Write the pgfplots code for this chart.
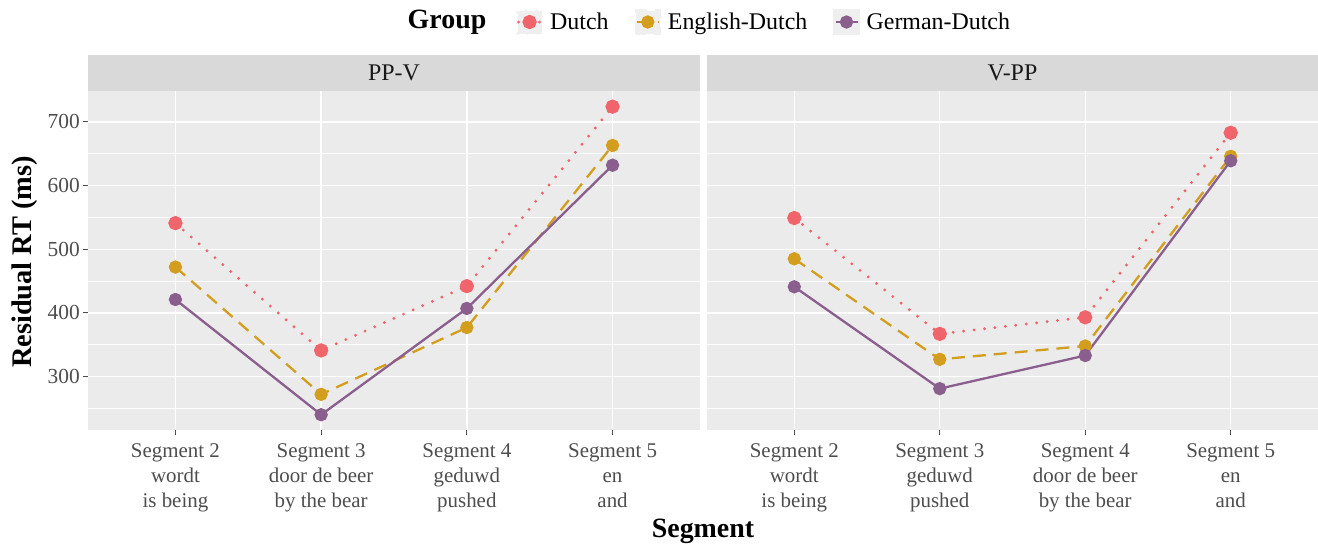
\documentclass[border=0pt]{standalone}
\usepackage{fontspec}
\setmainfont{Liberation Serif}
\usepackage{pgfplots}
\pgfplotsset{compat=1.18}
\definecolor{cDutch}{HTML}{F0646B}
\definecolor{cED}{HTML}{D39E1E}
\definecolor{cGD}{HTML}{8A5F8E}
\definecolor{panelbg}{HTML}{EBEBEB}
\definecolor{stripbg}{HTML}{D9D9D9}
\definecolor{tickgray}{HTML}{4D4D4D}
\definecolor{legbg}{HTML}{EFEFEF}
\pgfplotsset{
 facet/.style={
  scale only axis, height=339bp,
  xmin=-0.6, xmax=3.6, ymin=216, ymax=748.6,
  axis background/.style={fill=panelbg},
  axis line style={draw=none},
  xtick={0,1,2,3}, ytick={300,400,500,600,700},
  minor ytick={250,350,450,550,650},
  grid=both,
  major grid style={white, line width=1.3bp},
  minor grid style={white, line width=0.6bp},
  tick align=outside, major tick length=5bp, minor tick length=0pt,
  tick style={tickgray, line width=1bp},
  tick pos=left,
  xticklabel style={font=\fontsize{21}{25.5}\selectfont, text=tickgray, align=center, anchor=north, inner sep=2bp, yshift=-6bp},
  yticklabel style={font=\fontsize{21.5}{25}\selectfont, text=tickgray, inner sep=3bp},
  /pgf/number format/assume math mode=true,
  legend image code/.code={
    \fill[legbg] (0bp,-11.5bp) rectangle (24bp,11.5bp);
    \draw[mark repeat=2, mark phase=2, #1] plot coordinates {(1bp,0bp) (12bp,0bp) (23bp,0bp)};},
 },
 sDutch/.style={cDutch, line width=3.2bp, line cap=round, dash pattern=on 0bp off 10.5bp, mark=*, mark size=5.5bp, mark options={solid, fill=cDutch, draw=cDutch}},
 sED/.style={cED, line width=2.3bp, dash pattern=on 13bp off 8bp, mark=*, mark size=5.5bp, mark options={solid, fill=cED, draw=cED}},
 sGD/.style={cGD, line width=2.3bp, mark=*, mark size=5.5bp, mark options={solid, fill=cGD, draw=cGD}},
}
\begin{document}
\begin{tikzpicture}
\path[use as bounding box] (0,0) rectangle (1318bp,545bp);
\begin{axis}[facet, name=L, at={(88bp,115bp)}, anchor=south west, width=612bp,
  xticklabels={{Segment 2\\wordt\\is being},{Segment 3\\door de beer\\by the bear},{Segment 4\\geduwd\\pushed},{Segment 5\\en\\and}},
  legend columns=-1,
  legend style={at={(rel axis cs:0.699,1.2035)}, anchor=west, draw=none, fill=none, inner sep=0pt,
    font=\fontsize{24}{26}\selectfont, text=black,
    /tikz/every odd column/.append style={column sep=5bp},
    /tikz/every even column/.append style={column sep=24bp}},
]
\addplot[sDutch] coordinates {(0,541) (1,341) (2,442) (3,724)};
\addplot[sED] coordinates {(0,472) (1,272) (2,377) (3,663)};
\addplot[sGD] coordinates {(0,421) (1,240) (2,407) (3,632)};
\legend{Dutch,English-Dutch,German-Dutch}
\end{axis}
\begin{axis}[facet, name=R, at={(707bp,115bp)}, anchor=south west, width=611bp,
  yticklabels={}, ytick style={draw=none},
  xticklabels={{Segment 2\\wordt\\is being},{Segment 3\\geduwd\\pushed},{Segment 4\\door de beer\\by the bear},{Segment 5\\en\\and}},
]
\addplot[sDutch] coordinates {(0,549) (1,367) (2,393) (3,683)};
\addplot[sED] coordinates {(0,485) (1,327) (2,348) (3,646)};
\addplot[sGD] coordinates {(0,441) (1,281) (2,333) (3,639)};
\end{axis}
\fill[stripbg] (L.north west) rectangle ([yshift=36bp]L.north east);
\fill[stripbg] (R.north west) rectangle ([yshift=36bp]R.north east);
\node[font=\fontsize{24}{26}\selectfont, text=black!90] at ([yshift=18bp]L.north) {PP-V};
\node[font=\fontsize{24}{26}\selectfont, text=black!90] at ([yshift=18bp]R.north) {V-PP};
\node[font=\bfseries\fontsize{28.5}{30}\selectfont, rotate=90] at (25bp,283bp) {Residual RT (ms)};
\node[font=\bfseries\fontsize{28}{30}\selectfont] at (703bp,14bp) {Segment};
\node[font=\bfseries\fontsize{28}{30}\selectfont] at (447bp,523bp) {Group};
\end{tikzpicture}
\end{document}
